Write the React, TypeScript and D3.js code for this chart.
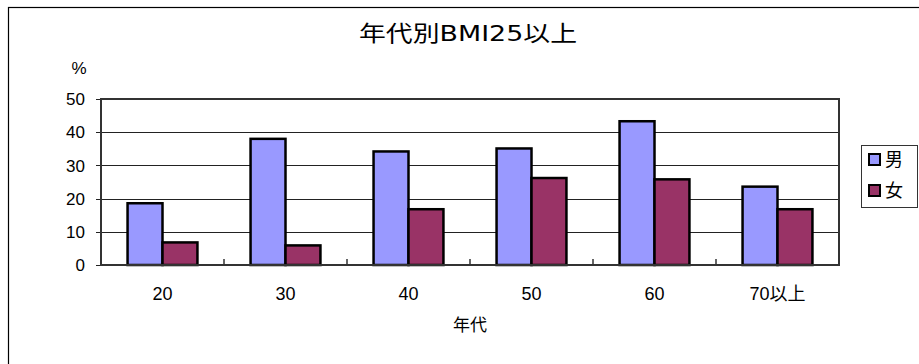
import * as d3 from "d3";
import { useEffect, useRef } from "react";

const categories = ["20", "30", "40", "50", "60", "70以上"];
const seriesNames = ["男", "女"];
const maleValues = [18.6, 38.0, 34.2, 35.1, 43.3, 23.6];
const femaleValues = [6.8, 5.9, 16.8, 26.2, 25.8, 16.8];
const yTicks = [0, 10, 20, 30, 40, 50];
const colors = ["#9999ff", "#993366"];
const font = "'Liberation Sans', 'Noto Sans CJK JP', sans-serif";

const App = () => {
  const ref = useRef<HTMLDivElement>(null);

  useEffect(() => {
    const width = 919;
    const height = 364;
    const plot = { left: 101, right: 839, top: 99, bottom: 265 };

    d3.select(ref.current).select("svg").remove();
    const svg = d3
      .select(ref.current)
      .append("svg")
      .attr("width", width)
      .attr("height", height)
      .style("position", "absolute")
      .style("left", "0px")
      .style("top", "0px")
      .style("font-family", font);

    // outer frame (runs past the right/bottom edge)
    svg
      .append("rect")
      .attr("x", 8.5)
      .attr("y", 7.5)
      .attr("width", width + 20)
      .attr("height", height + 20)
      .attr("fill", "white")
      .attr("stroke", "black")
      .attr("stroke-width", 1.2);

    svg
      .append("text")
      .attr("x", 468)
      .attr("y", 33)
      .attr("dy", "0.36em")
      .attr("text-anchor", "middle")
      .attr("textLength", 218)
      .attr("lengthAdjust", "spacingAndGlyphs")
      .style("font-family", "'DejaVu Sans', 'Noto Sans CJK JP', sans-serif")
      .style("font-size", "22px")
      .text("年代別BMI25以上");

    const x0 = d3
      .scaleBand<string>()
      .domain(categories)
      .range([plot.left, plot.right]);
    const x1 = d3
      .scaleBand<string>()
      .domain(seriesNames)
      .range([0, x0.bandwidth()])
      .paddingInner(0)
      .paddingOuter(0.76);
    const y = d3.scaleLinear().domain([0, 50]).range([plot.bottom, plot.top]);

    // gridlines
    svg
      .append("g")
      .selectAll("line")
      .data(yTicks.slice(1, -1))
      .join("line")
      .attr("x1", plot.left)
      .attr("x2", plot.right)
      .attr("y1", (d) => Math.round(y(d)) + 0.5)
      .attr("y2", (d) => Math.round(y(d)) + 0.5)
      .attr("stroke", "#222")
      .attr("stroke-width", 1);

    // y ticks + labels
    const yAxis = svg.append("g");
    yAxis
      .selectAll("line")
      .data(yTicks)
      .join("line")
      .attr("x1", plot.left - 5)
      .attr("x2", plot.left)
      .attr("y1", (d) => Math.round(y(d)) + 0.5)
      .attr("y2", (d) => Math.round(y(d)) + 0.5)
      .attr("stroke", "#222");
    yAxis
      .selectAll("text")
      .data(yTicks)
      .join("text")
      .attr("x", 85)
      .attr("y", (d) => y(d))
      .attr("dy", "0.36em")
      .attr("text-anchor", "end")
      .style("font-size", "17px")
      .text((d) => d);

    svg
      .append("text")
      .attr("x", 79)
      .attr("y", 68)
      .attr("dy", "0.36em")
      .attr("text-anchor", "middle")
      .style("font-size", "17px")
      .text("%");

    // bars
    const data = categories.map((c, i) => ({
      cat: c,
      vals: [maleValues[i], femaleValues[i]],
    }));
    const groups = svg
      .append("g")
      .selectAll("g")
      .data(data)
      .join("g")
      .attr("transform", (d) => `translate(${x0(d.cat)},0)`);
    groups
      .selectAll("rect")
      .data((d) => d.vals.map((v, i) => ({ name: seriesNames[i], v, i })))
      .join("rect")
      .attr("x", (d) => x1(d.name)!)
      .attr("width", x1.bandwidth())
      .attr("y", (d) => y(d.v))
      .attr("height", (d) => plot.bottom - y(d.v))
      .attr("fill", (d) => colors[d.i])
      .attr("stroke", "black")
      .attr("stroke-width", 2.5);

    // plot frame
    svg
      .append("rect")
      .attr("x", plot.left)
      .attr("y", plot.top)
      .attr("width", plot.right - plot.left)
      .attr("height", plot.bottom - plot.top)
      .attr("fill", "none")
      .attr("stroke", "#333")
      .attr("stroke-width", 2);

    // category separator ticks (inside)
    svg
      .append("g")
      .selectAll("line")
      .data(categories.slice(1))
      .join("line")
      .attr("x1", (d) => x0(d)!)
      .attr("x2", (d) => x0(d)!)
      .attr("y1", plot.bottom)
      .attr("y2", plot.bottom - 6)
      .attr("stroke", "#333")
      .attr("stroke-width", 1.5);

    // x labels
    svg
      .append("g")
      .selectAll("text")
      .data(categories)
      .join("text")
      .attr("x", (d) => x0(d)! + x0.bandwidth() / 2)
      .attr("y", 294)
      .attr("dy", "0.36em")
      .attr("text-anchor", "middle")
      .style("font-size", "18px")
      .text((d) => d);

    svg
      .append("text")
      .attr("x", 470)
      .attr("y", 325)
      .attr("dy", "0.36em")
      .attr("text-anchor", "middle")
      .style("font-size", "17px")
      .text("年代");

    // legend
    const lg = svg.append("g");
    lg.append("rect")
      .attr("x", 861.5)
      .attr("y", 145.5)
      .attr("width", 56)
      .attr("height", 62)
      .attr("fill", "white")
      .attr("stroke", "#333");
    const items = lg
      .selectAll("g")
      .data(seriesNames)
      .join("g")
      .attr("transform", (d, i) => `translate(869,${154 + i * 31})`);
    items
      .append("rect")
      .attr("width", 11)
      .attr("height", 11)
      .attr("fill", (d, i) => colors[i])
      .attr("stroke", "black")
      .attr("stroke-width", 2);
    items
      .append("text")
      .attr("x", 16)
      .attr("y", 5.5)
      .attr("dy", "0.36em")
      .style("font-size", "18px")
      .text((d) => d);
  }, []);

  return <div ref={ref}></div>;
};

export default App;
